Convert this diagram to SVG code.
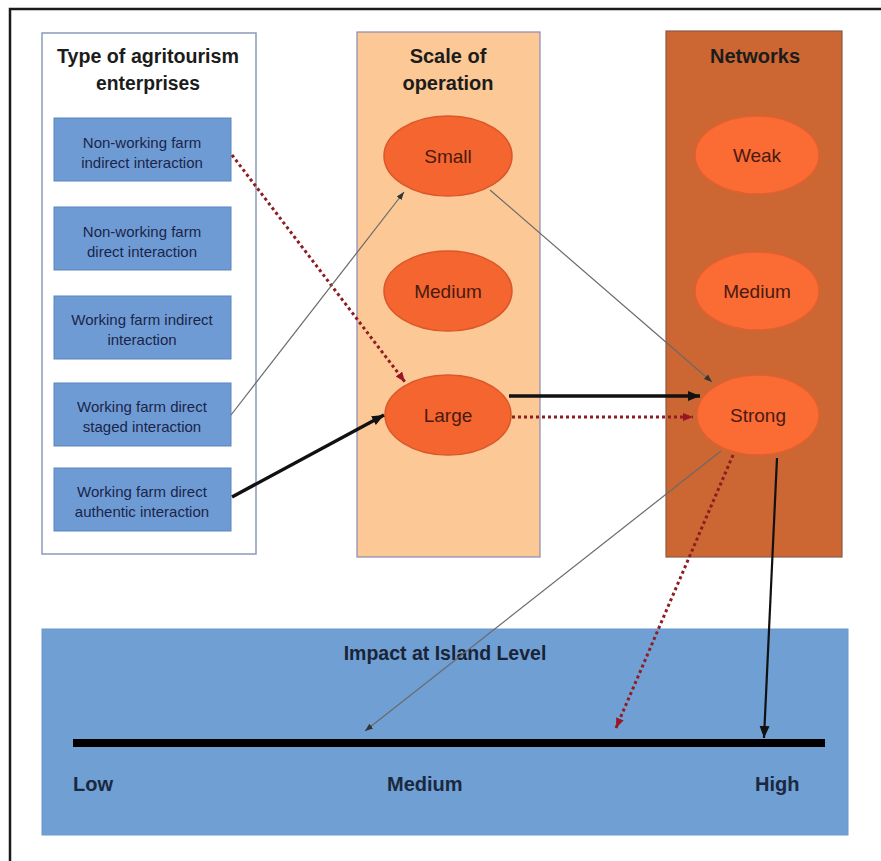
<svg xmlns="http://www.w3.org/2000/svg" width="881" height="861" viewBox="0 0 881 861">
<style>
.title{font-family:"Liberation Sans",Arial,sans-serif;font-weight:bold;font-size:20px;fill:#1c1c1c;text-anchor:middle}
.box{fill:#6f9bd4;stroke:#5a85be;stroke-width:1}
.btxt{font-family:"Liberation Sans",Arial,sans-serif;font-size:15px;fill:#1a254a;text-anchor:middle}
.ell{fill:#f5652f;stroke:#d9582b;stroke-width:1.5}
.ell2{fill:#fb6b34;stroke:#e2602f;stroke-width:1.5}
.etxt{font-family:"Liberation Sans",Arial,sans-serif;font-size:19px;fill:#4a1a10;text-anchor:middle}
.lvl{font-family:"Liberation Sans",Arial,sans-serif;font-weight:bold;font-size:20px;fill:#1a2840}
.thin{stroke:#6a6a6a;stroke-width:1.2;fill:none}
.thick{stroke:#111;stroke-width:3.5;fill:none}
.red{stroke:#8e1c22;stroke-width:3;stroke-dasharray:3 3;fill:none}
</style>
<defs>
<marker id="aBlack" markerUnits="userSpaceOnUse" markerWidth="14" markerHeight="12" refX="12" refY="6" orient="auto"><path d="M0,1 L12,6 L0,11 Z" fill="#111"/></marker>
<marker id="aGray" markerUnits="userSpaceOnUse" markerWidth="10" markerHeight="8" refX="8" refY="4" orient="auto"><path d="M0,1 L8,4 L0,7 Z" fill="#333"/></marker>
<marker id="aRed" markerUnits="userSpaceOnUse" markerWidth="12" markerHeight="10" refX="10" refY="5" orient="auto"><path d="M0,1 L10,5 L0,9 Z" fill="#9a1525"/></marker>
</defs>
<rect width="881" height="861" fill="#ffffff"/>
<path d="M10,861 L10,9 L881,9" fill="none" stroke="#1a1a1a" stroke-width="2.5"/>

<g id="panel-type">
<rect x="42" y="33" width="214" height="521" fill="#ffffff" stroke="#8a9ab8" stroke-width="1.5"/>
<text class="title" x="148" y="63" textLength="182" lengthAdjust="spacingAndGlyphs">Type of agritourism</text>
<text class="title" x="148" y="90" textLength="104" lengthAdjust="spacingAndGlyphs">enterprises</text>
</g>
<g id="box1"><rect class="box" x="54" y="118" width="177" height="63"/><text class="btxt" x="142" y="148">Non-working farm</text><text class="btxt" x="142" y="168">indirect interaction</text></g>
<g id="box2"><rect class="box" x="54" y="207" width="177" height="63"/><text class="btxt" x="142" y="237">Non-working farm</text><text class="btxt" x="142" y="257">direct interaction</text></g>
<g id="box3"><rect class="box" x="54" y="296" width="177" height="63"/><text class="btxt" x="142" y="325">Working farm indirect</text><text class="btxt" x="142" y="345">interaction</text></g>
<g id="box4"><rect class="box" x="54" y="383" width="177" height="63"/><text class="btxt" x="142" y="412">Working farm direct</text><text class="btxt" x="142" y="432">staged interaction</text></g>
<g id="box5"><rect class="box" x="54" y="468" width="177" height="63"/><text class="btxt" x="142" y="497">Working farm direct</text><text class="btxt" x="142" y="517">authentic  interaction</text></g>

<g id="panel-scale">
<rect x="357" y="32" width="183" height="525" fill="#fbc896" stroke="#8a8ab8" stroke-width="1.2"/>
<text class="title" x="448" y="63">Scale of</text>
<text class="title" x="448" y="90">operation</text>
</g>
<g id="small"><ellipse class="ell" cx="448" cy="156" rx="64" ry="40"/><text class="etxt" x="448" y="163">Small</text></g>
<g id="medium-scale"><ellipse class="ell" cx="448" cy="291" rx="64" ry="40"/><text class="etxt" x="448" y="298">Medium</text></g>
<g id="large"><ellipse class="ell" cx="448" cy="415" rx="63" ry="40"/><text class="etxt" x="448" y="422">Large</text></g>

<g id="panel-networks">
<rect x="666" y="31" width="176" height="526" fill="#cc6632" stroke="#8a5a48" stroke-width="1.2"/>
<text class="title" x="755" y="63">Networks</text>
</g>
<g id="weak"><ellipse class="ell2" cx="757" cy="155" rx="62" ry="39"/><text class="etxt" x="757" y="162">Weak</text></g>
<g id="medium-net"><ellipse class="ell2" cx="757" cy="291" rx="62" ry="39"/><text class="etxt" x="757" y="298">Medium</text></g>
<g id="strong"><ellipse class="ell2" cx="758" cy="415" rx="61" ry="40"/><text class="etxt" x="758" y="422">Strong</text></g>

<g id="impact">
<rect x="42" y="629" width="806" height="206" fill="#6f9fd3" stroke="#6a98cc" stroke-width="1"/>
<text class="title" x="445" y="660" style="font-size:19.5px;fill:#1a2438">Impact at Island Level</text>
<line x1="73" y1="743" x2="825" y2="743" stroke="#000" stroke-width="8"/>
<text class="lvl" x="73" y="791">Low</text>
<text class="lvl" x="387" y="791">Medium</text>
<text class="lvl" x="755" y="791">High</text>
</g>

<g id="connectors">
<line class="red" x1="232" y1="155" x2="405" y2="382" marker-end="url(#aRed)"/>
<line class="thin" x1="231" y1="415" x2="404" y2="192" marker-end="url(#aGray)"/>
<line class="thick" x1="232" y1="497" x2="384" y2="415" marker-end="url(#aBlack)"/>
<line class="thin" x1="490" y1="190" x2="712" y2="382" marker-end="url(#aGray)"/>
<line class="thick" x1="509" y1="396" x2="700" y2="396" marker-end="url(#aBlack)"/>
<line class="red" x1="512" y1="417" x2="693" y2="417" marker-end="url(#aRed)"/>
<line class="thin" x1="721" y1="451" x2="365" y2="731" stroke="#4a5a70" marker-end="url(#aGray)"/>
<line class="red" x1="733" y1="455" x2="616" y2="728" marker-end="url(#aRed)"/>
<line x1="777" y1="458" x2="764" y2="738" stroke="#111" stroke-width="2.2" marker-end="url(#aBlack)"/>
</g>
</svg>
